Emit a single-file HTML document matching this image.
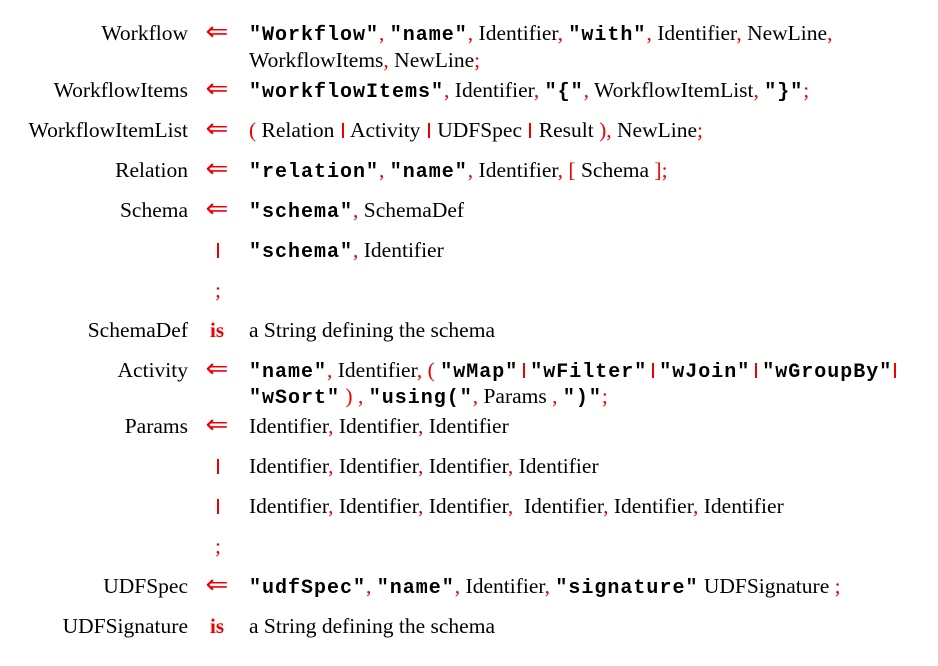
<!DOCTYPE html>
<html><head><meta charset="utf-8"><style>
html,body{margin:0;padding:0;background:#fff;width:938px;height:666px;overflow:hidden}
body{position:relative;font-family:"Liberation Serif",serif;font-size:21.5px;color:#000}
.row{position:absolute;left:0;width:938px;height:26px;line-height:26px;white-space:pre}
.l{position:absolute;right:750px;top:0}
.a{position:absolute;left:206px;top:-1px;color:#e00;font-size:26px;transform:scaleX(1.05)}
.is{position:absolute;left:210px;top:0;color:#e00;font-weight:bold;font-size:21px}
.bar{position:absolute;left:215px;top:0;color:#e00}
.b{display:inline-block;width:2px;height:15px;background:#e00;vertical-align:-1px;margin:0 2px}
.bm{margin:0 5px}
.bar .b{position:absolute;left:2px;top:6px;margin:0}
.c{position:absolute;left:249px;top:0}
.r{color:#e00}
.m{font-family:"Liberation Mono",monospace;font-weight:bold;font-size:20px;letter-spacing:1px}
</style></head><body>
<div class="row" style="top:20px"><span class="l">Workflow</span><span class="a">⇐</span><span class="c"><span class="m">"Workflow"</span><span class="r">,</span> <span class="m">"name"</span><span class="r">,</span> Identifier<span class="r">,</span> <span class="m">"with"</span><span class="r">,</span> Identifier<span class="r">,</span> NewLine<span class="r">,</span></span></div>
<div class="row" style="top:47px"><span class="c">WorkflowItems<span class="r">,</span> NewLine<span class="r">;</span></span></div>
<div class="row" style="top:77px"><span class="l">WorkflowItems</span><span class="a">⇐</span><span class="c"><span class="m">"workflowItems"</span><span class="r">,</span> Identifier<span class="r">,</span> <span class="m">"{"</span><span class="r">,</span> WorkflowItemList<span class="r">,</span> <span class="m">"}"</span><span class="r">;</span></span></div>
<div class="row" style="top:117px"><span class="l">WorkflowItemList</span><span class="a">⇐</span><span class="c"><span class="r">(</span> Relation <span class="b"></span> Activity <span class="b"></span> UDFSpec <span class="b"></span> Result <span class="r">),</span> NewLine<span class="r">;</span></span></div>
<div class="row" style="top:157px"><span class="l">Relation</span><span class="a">⇐</span><span class="c"><span class="m">"relation"</span><span class="r">,</span> <span class="m">"name"</span><span class="r">,</span> Identifier<span class="r">,</span> <span class="r">[</span> Schema <span class="r">];</span></span></div>
<div class="row" style="top:197px"><span class="l">Schema</span><span class="a">⇐</span><span class="c"><span class="m">"schema"</span><span class="r">,</span> SchemaDef</span></div>
<div class="row" style="top:237px"><span class="bar"><span class="b"></span></span><span class="c"><span class="m">"schema"</span><span class="r">,</span> Identifier</span></div>
<div class="row" style="top:277px"><span class="bar">;</span></div>
<div class="row" style="top:317px"><span class="l">SchemaDef</span><span class="is">is</span><span class="c">a String defining the schema</span></div>
<div class="row" style="top:357px"><span class="l">Activity</span><span class="a">⇐</span><span class="c"><span class="m">"name"</span><span class="r">,</span> Identifier<span class="r">,</span> <span class="r">(</span> <span class="m">"wMap"</span><span class="b bm"></span><span class="m">"wFilter"</span><span class="b bm"></span><span class="m">"wJoin"</span><span class="b bm"></span><span class="m">"wGroupBy"</span><span class="b"></span></span></div>
<div class="row" style="top:383px"><span class="c"><span class="m">"wSort"</span> <span class="r">)</span> <span class="r">,</span> <span class="m">"using("</span><span class="r">,</span> Params <span class="r">,</span> <span class="m">")"</span><span class="r">;</span></span></div>
<div class="row" style="top:413px"><span class="l">Params</span><span class="a">⇐</span><span class="c">Identifier<span class="r">,</span> Identifier<span class="r">,</span> Identifier</span></div>
<div class="row" style="top:453px"><span class="bar"><span class="b"></span></span><span class="c">Identifier<span class="r">,</span> Identifier<span class="r">,</span> Identifier<span class="r">,</span> Identifier</span></div>
<div class="row" style="top:493px"><span class="bar"><span class="b"></span></span><span class="c">Identifier<span class="r">,</span> Identifier<span class="r">,</span> Identifier<span class="r">,</span>  Identifier<span class="r">,</span> Identifier<span class="r">,</span> Identifier</span></div>
<div class="row" style="top:533px"><span class="bar">;</span></div>
<div class="row" style="top:573px"><span class="l">UDFSpec</span><span class="a">⇐</span><span class="c"><span class="m">"udfSpec"</span><span class="r">,</span> <span class="m">"name"</span><span class="r">,</span> Identifier<span class="r">,</span> <span class="m">"signature"</span> UDFSignature <span class="r">;</span></span></div>
<div class="row" style="top:613px"><span class="l">UDFSignature</span><span class="is">is</span><span class="c">a String defining the schema</span></div>
</body></html>
